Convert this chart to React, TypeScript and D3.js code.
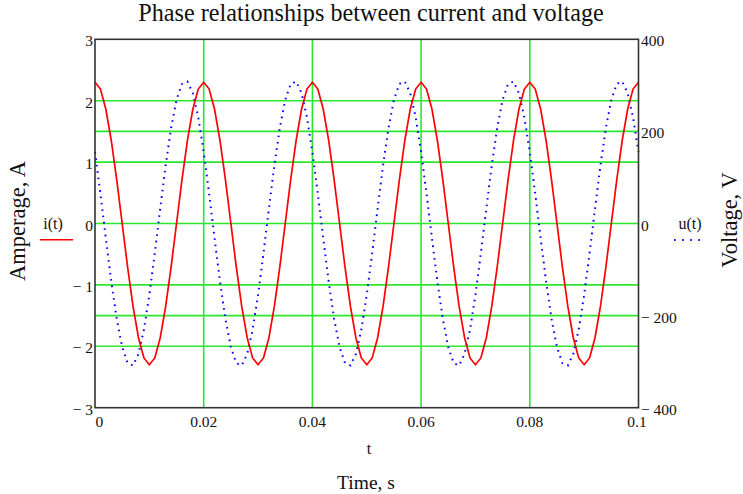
import React from "react";
import * as d3 from "d3";

// ---- data ----
const timeStep = 0.001; // seconds between samples
const currentValues = [
  2.3, 2.19, 1.86, 1.35, 0.71, 0, -0.71, -1.35, -1.86, -2.19, -2.3, -2.19, -1.86, -1.35, -0.71, 0, 0.71, 1.35, 1.86, 2.19,
  2.3, 2.19, 1.86, 1.35, 0.71, 0, -0.71, -1.35, -1.86, -2.19, -2.3, -2.19, -1.86, -1.35, -0.71, 0, 0.71, 1.35, 1.86, 2.19,
  2.3, 2.19, 1.86, 1.35, 0.71, 0, -0.71, -1.35, -1.86, -2.19, -2.3, -2.19, -1.86, -1.35, -0.71, 0, 0.71, 1.35, 1.86, 2.19,
  2.3, 2.19, 1.86, 1.35, 0.71, 0, -0.71, -1.35, -1.86, -2.19, -2.3, -2.19, -1.86, -1.35, -0.71, 0, 0.71, 1.35, 1.86, 2.19,
  2.3, 2.19, 1.86, 1.35, 0.71, 0, -0.71, -1.35, -1.86, -2.19, -2.3, -2.19, -1.86, -1.35, -0.71, 0, 0.71, 1.35, 1.86, 2.19,
  2.3,
];
const voltageValues = [
  155, 64.5, -32.4, -126.1, -207.4, -268.5, -303.2, -308.3, -283.2, -230.4, -155, -64.5, 32.4, 126.1, 207.4, 268.5, 303.2, 308.3, 283.2, 230.4,
  155, 64.5, -32.4, -126.1, -207.4, -268.5, -303.2, -308.3, -283.2, -230.4, -155, -64.5, 32.4, 126.1, 207.4, 268.5, 303.2, 308.3, 283.2, 230.4,
  155, 64.5, -32.4, -126.1, -207.4, -268.5, -303.2, -308.3, -283.2, -230.4, -155, -64.5, 32.4, 126.1, 207.4, 268.5, 303.2, 308.3, 283.2, 230.4,
  155, 64.5, -32.4, -126.1, -207.4, -268.5, -303.2, -308.3, -283.2, -230.4, -155, -64.5, 32.4, 126.1, 207.4, 268.5, 303.2, 308.3, 283.2, 230.4,
  155, 64.5, -32.4, -126.1, -207.4, -268.5, -303.2, -308.3, -283.2, -230.4, -155, -64.5, 32.4, 126.1, 207.4, 268.5, 303.2, 308.3, 283.2, 230.4,
  155,
];
const xTicks = [0, 0.02, 0.04, 0.06, 0.08, 0.1];
const xTickLabels = ["0", "0.02", "0.04", "0.06", "0.08", "0.1"];
const leftTicks = [3, 2, 1, 0, -1, -2, -3];
const rightTicks = [400, 200, 0, -200, -400];

const W = 743;
const H = 494;
const plot = { left: 95, right: 638.5, top: 39.3, bottom: 407.7 };
const FONT = "'Liberation Serif', 'Times New Roman', serif";
const GRID = "#2be82b";

const fmt = (v: number) => (v < 0 ? "\u2212 " + Math.abs(v) : String(v));

export default function App() {
  const x = d3.scaleLinear().domain([0, 0.1]).range([plot.left, plot.right]);
  const yL = d3.scaleLinear().domain([-3, 3]).range([plot.bottom, plot.top]);
  const yR = d3.scaleLinear().domain([-400, 400]).range([plot.bottom, plot.top]);

  const lineI = d3
    .line<number>()
    .x((_, i) => x(i * timeStep))
    .y((d) => yL(d));
  const lineU = d3
    .line<number>()
    .x((_, i) => x(i * timeStep))
    .y((d) => yR(d));

  const hGridL = leftTicks.filter((v) => Math.abs(v) < 3).map((v) => yL(v));
  const hGridR = rightTicks.filter((v) => Math.abs(v) < 400 && v !== 0).map((v) => yR(v));
  const vGrid = xTicks.filter((v) => v > 0 && v < 0.1).map((v) => x(v));

  return (
    <svg
      width={W}
      height={H}
      style={{ position: "absolute", left: 0, top: 0, background: "#fff" }}
      fontFamily={FONT}
    >
      <rect x={0} y={0} width={W} height={H} fill="#fff" />
      {/* title */}
      <text x={371} y={21} textAnchor="middle" fontSize={24.2} fill="#111">
        Phase relationships between current and voltage
      </text>

      {/* grid */}
      {hGridL.concat(hGridR).map((y, i) => (
        <line key={"h" + i} x1={plot.left} x2={plot.right} y1={y} y2={y} stroke={GRID} strokeWidth={1.6} />
      ))}
      {vGrid.map((xx, i) => (
        <line key={"v" + i} x1={xx} x2={xx} y1={plot.top} y2={plot.bottom} stroke={GRID} strokeWidth={1.6} />
      ))}

      {/* series */}
      <path d={lineU(voltageValues) || ""} fill="none" stroke="#0000ff" strokeWidth={2} strokeDasharray="1.6,4.8" />
      <path d={lineI(currentValues) || ""} fill="none" stroke="#ff0000" strokeWidth={1.7} />

      {/* frame */}
      <rect
        x={plot.left}
        y={plot.top}
        width={plot.right - plot.left}
        height={plot.bottom - plot.top}
        fill="none"
        stroke="#333"
        strokeWidth={1.6}
      />

      {/* left ticks */}
      {leftTicks.map((v) => (
        <text key={"l" + v} x={93} y={yL(v) + 7} textAnchor="end" fontSize={15.5} fill="#111">
          {fmt(v)}
        </text>
      ))}
      {/* right ticks */}
      {rightTicks.map((v) => (
        <text key={"r" + v} x={641} y={yR(v) + 7} textAnchor="start" fontSize={15.5} fill="#111">
          {fmt(v)}
        </text>
      ))}
      {/* x ticks */}
      {xTicks.map((v, i) => (
        <text
          key={"x" + i}
          x={i === 0 ? x(v) + 0.5 : i === xTicks.length - 1 ? x(v) - 1.5 : x(v)}
          y={427}
          textAnchor={i === 0 ? "start" : "middle"}
          fontSize={15.5}
          fill="#111"
        >
          {xTickLabels[i]}
        </text>
      ))}

      {/* axis labels */}
      <text x={369} y={454} textAnchor="middle" fontSize={16} fill="#111">
        t
      </text>
      <text x={366} y={489} textAnchor="middle" fontSize={19.5} fill="#111">
        Time, s
      </text>
      <text transform="translate(25,221) rotate(-90)" textAnchor="middle" fontSize={22.5} fill="#111">
        Amperage, A
      </text>
      <text transform="translate(737,220) rotate(-90)" textAnchor="middle" fontSize={22.5} fill="#111">
        Voltage, V
      </text>

      {/* legends */}
      <text x={53} y={228.5} textAnchor="middle" fontSize={16} fill="#111">
        i(t)
      </text>
      <line x1={40} x2={73} y1={239.7} y2={239.7} stroke="#ff0000" strokeWidth={1.5} />
      <text x={690} y={228.5} textAnchor="middle" fontSize={16} fill="#111">
        u(t)
      </text>
      <line x1={674} x2={702} y1={240} y2={240} stroke="#0000ff" strokeWidth={2} strokeDasharray="1.6,6.5" />
    </svg>
  );
}
